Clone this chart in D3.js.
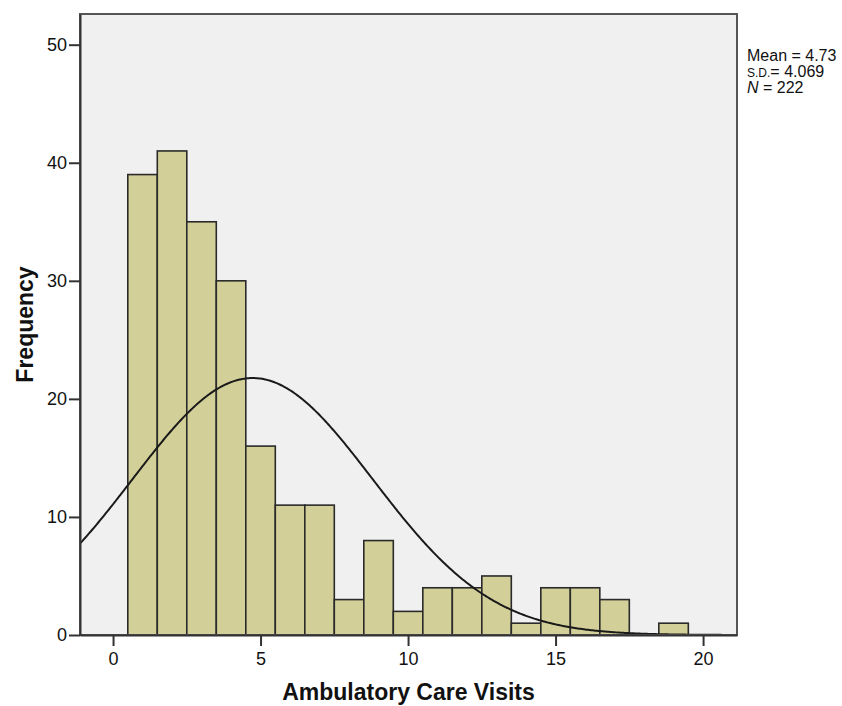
<!DOCTYPE html>
<html>
<head>
<meta charset="utf-8">
<script src="https://cdn.jsdelivr.net/npm/d3@7"></script>
<style>
  body { margin: 0; background: #fff; }
  text { font-family: Arial, "Liberation Sans", sans-serif; fill: #111; }
</style>
</head>
<body>
<div id="chart"></div>
<script>
// histogram bins (centred on whole numbers, width 1)
const binCenters = [1, 2, 3, 4, 5, 6, 7, 8, 9, 10, 11, 12, 13, 14, 15, 16, 17, 18, 19];
const frequencies = [39, 41, 35, 30, 16, 11, 11, 3, 8, 2, 4, 4, 5, 1, 4, 4, 3, 0, 1];
const xTicks = [0, 5, 10, 15, 20];
const yTicks = [0, 10, 20, 30, 40, 50];
const mean = 4.73, sd = 4.069, n = 222;

const width = 842, height = 706;
const margin = {top: 14, right: 105, bottom: 71, left: 80};

const svg = d3.select("#chart").append("svg")
    .attr("width", width)
    .attr("height", height);

const x = d3.scaleLinear().domain([-1.12, 21.15]).range([margin.left, width - margin.right]);
const y = d3.scaleLinear().domain([0, 52.6]).range([height - margin.bottom, margin.top]);

// plot background
svg.append("rect")
   .attr("x", margin.left).attr("y", margin.top)
   .attr("width", width - margin.left - margin.right)
   .attr("height", height - margin.top - margin.bottom)
   .attr("fill", "#f0f0f0");

svg.append("clipPath").attr("id", "plotclip")
   .append("rect")
   .attr("x", margin.left).attr("y", margin.top)
   .attr("width", width - margin.left - margin.right)
   .attr("height", height - margin.top - margin.bottom);

// bars
svg.selectAll("rect.bar")
   .data(binCenters.map((c, i) => ({c: c, f: frequencies[i]})).filter(d => d.f > 0))
   .enter().append("rect")
   .attr("class", "bar")
   .attr("x", d => x(d.c - 0.5))
   .attr("y", d => y(d.f))
   .attr("width", d => x(d.c + 0.5) - x(d.c - 0.5))
   .attr("height", d => y(0) - y(d.f))
   .attr("fill", "#d3cf98")
   .attr("stroke", "#2a2a2a")
   .attr("stroke-width", 1.6);

// normal curve from mean / sd / n shown in the legend
const xs = d3.range(-1.2, 21.2, 0.05);
const curve = d3.line()
    .x(d => x(d))
    .y(d => y(n / (sd * Math.sqrt(2 * Math.PI)) * Math.exp(-0.5 * Math.pow((d - mean) / sd, 2))));
svg.append("path")
   .datum(xs)
   .attr("d", curve)
   .attr("clip-path", "url(#plotclip)")
   .attr("fill", "none")
   .attr("stroke", "#1a1a1a")
   .attr("stroke-width", 2);

// frame
svg.append("rect")
   .attr("x", margin.left).attr("y", margin.top)
   .attr("width", width - margin.left - margin.right)
   .attr("height", height - margin.top - margin.bottom)
   .attr("fill", "none")
   .attr("stroke", "#555")
   .attr("stroke-width", 2);

// axes
const xAxis = svg.append("g")
   .attr("transform", `translate(0,${height - margin.bottom})`)
   .call(d3.axisBottom(x).tickValues(xTicks).tickSize(11).tickSizeOuter(0).tickPadding(6));
const yAxis = svg.append("g")
   .attr("transform", `translate(${margin.left},0)`)
   .call(d3.axisLeft(y).tickValues(yTicks).tickSize(11).tickSizeOuter(0).tickPadding(2));
[xAxis, yAxis].forEach(g => {
  g.select(".domain").attr("stroke", "#333").attr("stroke-width", 2);
  g.selectAll(".tick line").attr("stroke", "#333").attr("stroke-width", 2);
  g.selectAll(".tick text").attr("font-size", 18).attr("font-family", "Arial, 'Liberation Sans', sans-serif").attr("fill", "#111");
});

// axis titles
svg.append("text")
   .attr("x", (x(-1.12) + x(21.15)) / 2)
   .attr("y", 700)
   .attr("text-anchor", "middle")
   .attr("font-size", 23)
   .attr("font-weight", "bold")
   .text("Ambulatory Care Visits");

svg.append("text")
   .attr("transform", `translate(33,${(y(0) + y(52.6)) / 2}) rotate(-90)`)
   .attr("text-anchor", "middle")
   .attr("font-size", 23)
   .attr("font-weight", "bold")
   .text("Frequency");

// stats box
const stats = svg.append("g").attr("transform", "translate(747,0)");
stats.append("text").attr("y", 61).attr("font-size", 16).text("Mean = " + mean);
const sdText = stats.append("text").attr("y", 77).attr("font-size", 16);
sdText.append("tspan").attr("font-size", 12).text("S.D.");
sdText.append("tspan").text("= " + sd.toFixed(3));
const nText = stats.append("text").attr("y", 93).attr("font-size", 16);
nText.append("tspan").attr("font-style", "italic").text("N");
nText.append("tspan").text(" = " + n);
</script>
</body>
</html>
